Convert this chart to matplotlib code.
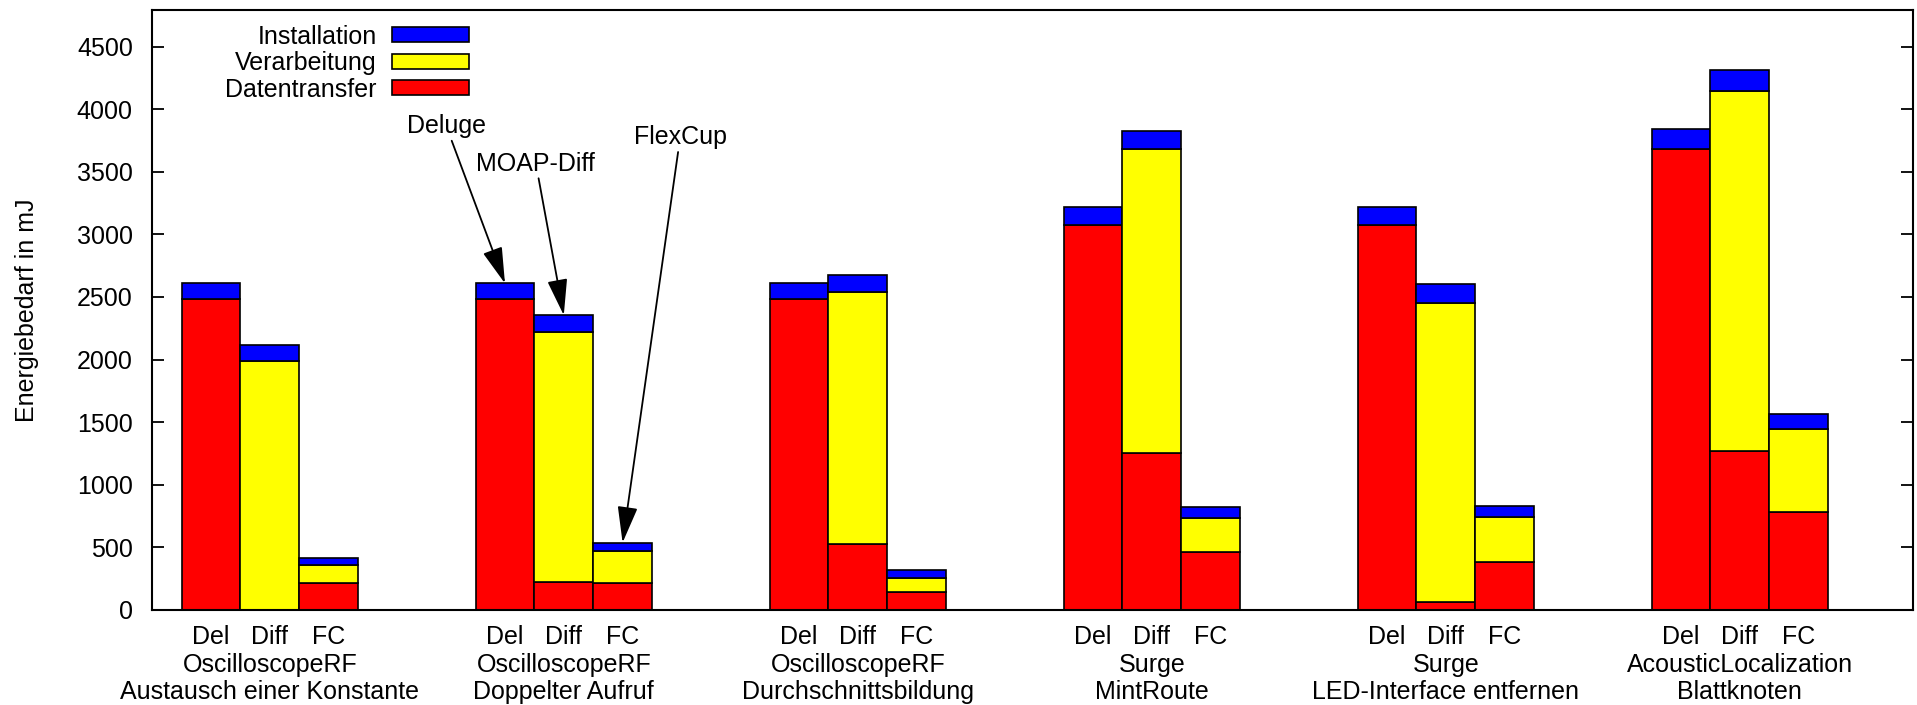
import numpy as np
import matplotlib
matplotlib.use("Agg")
import matplotlib.pyplot as plt
from matplotlib.patches import Patch

plt.rcParams['font.family'] = ['Liberation Sans', 'DejaVu Sans']
plt.rcParams['font.size'] = 18

# groups (program / change)
group_top = ["OscilloscopeRF", "OscilloscopeRF", "OscilloscopeRF",
             "Surge", "Surge", "AcousticLocalization"]
group_bottom = ["Austausch einer Konstante", "Doppelter Aufruf",
                "Durchschnittsbildung", "MintRoute",
                "LED-Interface entfernen", "Blattknoten"]
methods = ["Del", "Diff", "FC"]

# energy in mJ, one row per group, columns Del / Diff / FC
datentransfer = np.array([
    [2484, 0, 213],
    [2484, 224, 216],
    [2484, 525, 144],
    [3076, 1257, 463],
    [3076, 66, 381],
    [3685, 1272, 785],
])
verarbeitung = np.array([
    [0, 1991, 146],
    [0, 1999, 255],
    [0, 2017, 114],
    [0, 2425, 274],
    [0, 2389, 362],
    [0, 2871, 663],
])
installation = np.array([
    [124, 128, 59],
    [124, 131, 67],
    [124, 136, 64],
    [141, 146, 88],
    [141, 151, 88],
    [159, 173, 117],
])

width = 0.2
n_groups = len(group_top)

fig = plt.figure(figsize=(19.17, 7.05), dpi=100)
ax = fig.add_axes([0.0794, 0.1348, 0.9186, 0.851])

xs = []
for g in range(n_groups):
    for m in range(3):
        x = g + (m - 1) * width
        xs.append(x)
        r = datentransfer[g, m]
        y = verarbeitung[g, m]
        b = installation[g, m]
        kw = dict(width=width, edgecolor='black', linewidth=1.2)
        ax.bar(x, r, color='#ff0000', **kw)
        if y > 0:
            ax.bar(x, y, bottom=r, color='#ffff00', **kw)
        ax.bar(x, b, bottom=r + y, color='#0000ff', **kw)

ax.set_xlim(-0.4, 5.59)
ax.set_ylim(0, 4792)
ax.set_yticks(np.arange(0, 4501, 500))
ax.set_xticks(xs)
ax.set_xticklabels(methods * n_groups)
ax.tick_params(axis='x', length=0, pad=11)
ax.tick_params(axis='y', direction='in', length=8.5, width=1.3,
               right=True, pad=14)
for s in ax.spines.values():
    s.set_linewidth(1.5)

for g in range(n_groups):
    ax.annotate(group_top[g], xy=(g, 0), xycoords=('data', 'axes fraction'),
                xytext=(0, -39.5), textcoords='offset points',
                ha='center', va='center')
    ax.annotate(group_bottom[g], xy=(g, 0), xycoords=('data', 'axes fraction'),
                xytext=(0, -59), textcoords='offset points',
                ha='center', va='center')

ax.set_ylabel("Energiebedarf in mJ", labelpad=27)

# legend: text left, box right (gnuplot style)
handles = [Patch(facecolor='#0000ff', edgecolor='black', linewidth=1.2),
           Patch(facecolor='#ffff00', edgecolor='black', linewidth=1.2),
           Patch(facecolor='#ff0000', edgecolor='black', linewidth=1.2)]
labels = ["Installation", "Verarbeitung", "Datentransfer"]
ax.legend(handles, labels, loc='upper right', bbox_to_anchor=(0.1915, 1.009),
          frameon=False, markerfirst=False, handlelength=3.1,
          handleheight=0.55, labelspacing=0.1, handletextpad=0.6,
          borderpad=0.3)

# annotations for methods
arrow = dict(arrowstyle='-|>,head_length=0.9,head_width=0.25',
             mutation_scale=25, color='black', lw=1.3,
             shrinkA=0, shrinkB=0)
tot = datentransfer + verarbeitung + installation
ax.annotate("Deluge", xy=(1 - width, tot[1, 0]), xytext=(0.60, 3770),
            ha='center', va='bottom', arrowprops=arrow)
ax.annotate("MOAP-Diff", xy=(1, tot[1, 1]), xytext=(0.905, 3470),
            ha='center', va='bottom', arrowprops=arrow)
ax.annotate("FlexCup", xy=(1 + width, tot[1, 2]), xytext=(1.396, 3680),
            ha='center', va='bottom', arrowprops=arrow)

fig.savefig("out.png", dpi=100)
